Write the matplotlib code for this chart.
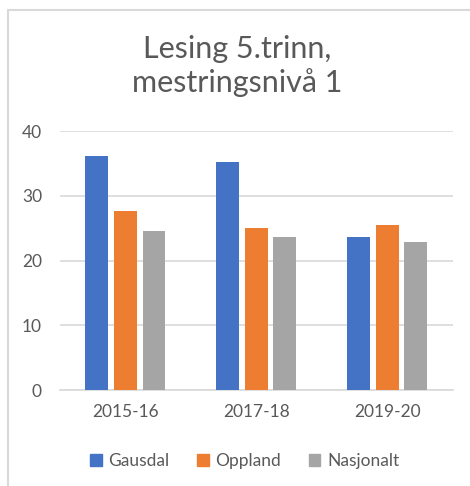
import matplotlib
matplotlib.use("Agg")
import matplotlib.pyplot as plt
import numpy as np
from matplotlib.patches import Rectangle, Patch

plt.rcParams['font.family'] = ['Lato', 'DejaVu Sans']

categories = ['2015-16', '2017-18', '2019-20']
series_names = ['Gausdal', 'Oppland', 'Nasjonalt']
gausdal = [36.2, 35.2, 23.7]
oppland = [27.6, 25.0, 25.5]
nasjonalt = [24.5, 23.7, 22.9]
colors = ['#4472C4', '#ED7D31', '#A5A5A5']
text_color = '#595959'
grid_color = '#D9D9D9'

fig = plt.figure(figsize=(4.7, 4.86), dpi=100)
ax = fig.add_axes([60 / 470, 1 - 390 / 486, 392.7 / 470, 259 / 486])

x = np.arange(len(categories))
width = 0.175
step = 0.218
for i, (vals, name) in enumerate(zip([gausdal, oppland, nasjonalt], series_names)):
    ax.bar(x + (i - 1) * step, vals, width, color=colors[i], label=name, zorder=3)

ax.set_xlim(-0.5, 2.5)
ax.set_ylim(0, 40)
ax.set_yticks([0, 10, 20, 30, 40])
ax.set_xticks(x)
ax.set_xticklabels(categories)
ax.yaxis.grid(True, color=grid_color, linewidth=1.2, zorder=0)
for s in ['top', 'right', 'left']:
    ax.spines[s].set_visible(False)
ax.spines['bottom'].set_color(grid_color)
ax.spines['bottom'].set_linewidth(1.2)
ax.tick_params(axis='both', length=0, labelsize=12.5, colors=text_color)
ax.tick_params(axis='y', pad=13)
ax.tick_params(axis='x', pad=10)

fig.text(0.505, 1 - 66 / 486, 'Lesing 5.trinn,\nmestringsnivå 1', ha='center', va='center',
         fontsize=22, color=text_color, linespacing=1.2)

handles = [Patch(color=c) for c in colors]
fig.legend(handles, series_names, loc='center', bbox_to_anchor=(0.521, 1 - 461 / 486), ncol=3,
           frameon=False, fontsize=12.5, handlelength=0.65, handleheight=0.65, handletextpad=0.4,
           columnspacing=1.6, labelcolor=text_color)

fig.patches.append(Rectangle((8 / 470, -0.1), 1.2, 1 - 9.5 / 486 + 0.1, transform=fig.transFigure,
                             fill=False, edgecolor=grid_color, linewidth=1.5))

fig.savefig('out.png', dpi=100)
